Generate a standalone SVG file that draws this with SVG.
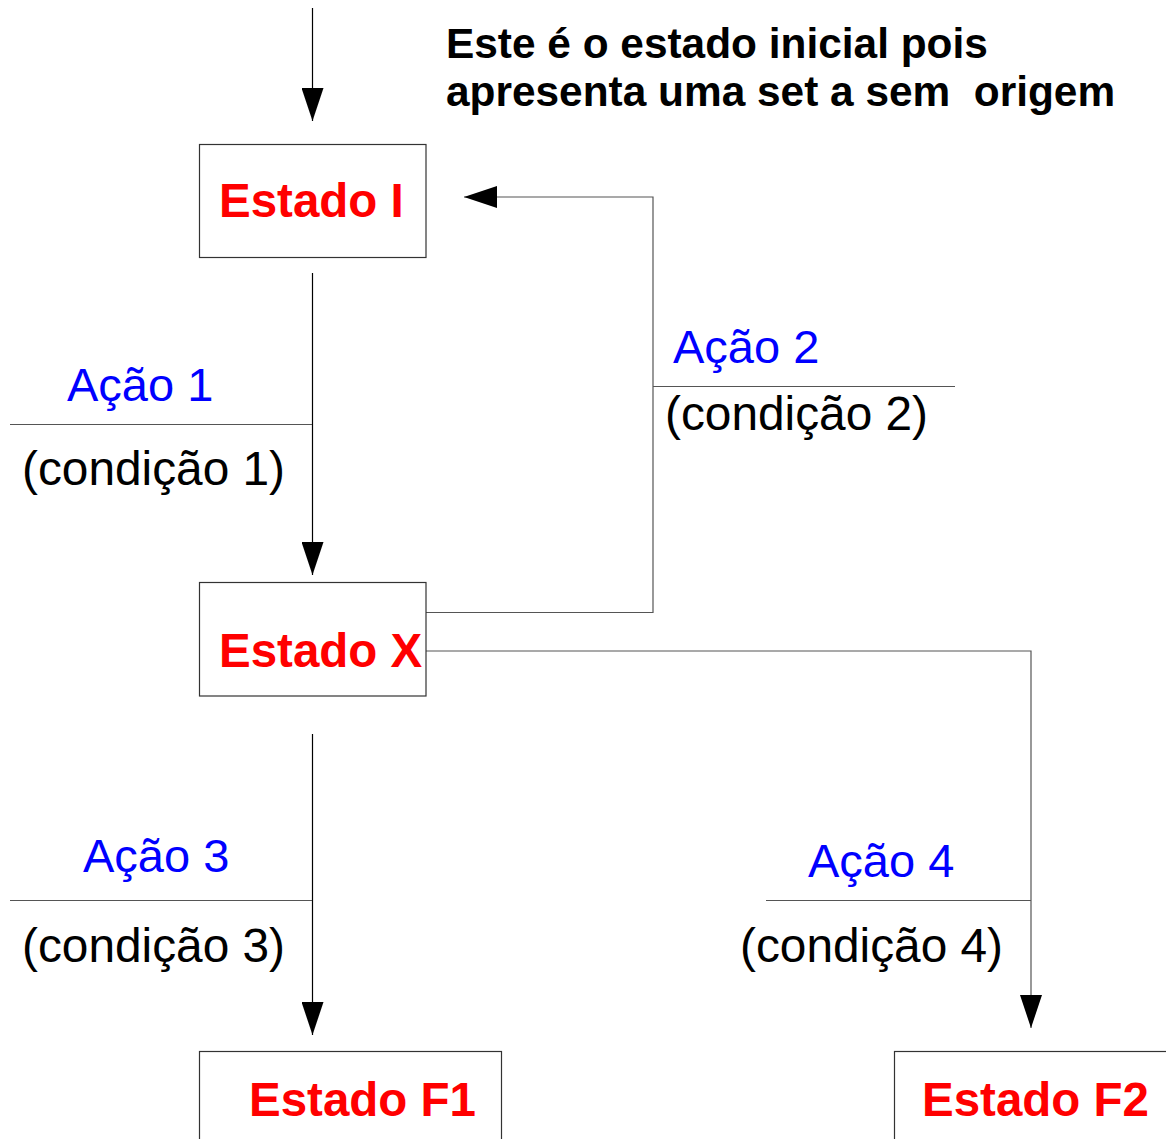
<svg xmlns="http://www.w3.org/2000/svg" width="1166" height="1139" viewBox="0 0 1166 1139">
<style>
.box{fill:#fff;stroke:#333;stroke-width:1.2}
.st{font-family:"Liberation Sans",Arial,sans-serif;font-weight:bold;font-size:47.5px;fill:#ff0000}
.act{font-family:"Liberation Sans",Arial,sans-serif;font-size:47px;fill:#0000ff}
.cond{font-family:"Liberation Sans",Arial,sans-serif;font-size:47.8px;fill:#000}
.note{font-family:"Liberation Sans",Arial,sans-serif;font-weight:bold;font-size:42.4px;fill:#000;white-space:pre}
.ln{fill:none;stroke:#000;stroke-width:1.2}
.gl{fill:none;stroke:#555;stroke-width:1.2}
</style>
<defs>
<marker id="ah" markerUnits="userSpaceOnUse" markerWidth="34" markerHeight="22" refX="33" refY="11" orient="auto" viewBox="0 0 34 22">
<path d="M0,0 L33,11 L0,22 z" fill="#000"/>
</marker>
</defs>
<g id="connectors">
<line class="ln" x1="312.5" y1="8" x2="312.5" y2="121" marker-end="url(#ah)"/>
<line class="ln" x1="312.5" y1="273" x2="312.5" y2="575" marker-end="url(#ah)"/>
<polyline class="gl" points="426,612.5 653,612.5 653,197 464,197" marker-end="url(#ah)"/>
<line class="ln" x1="312.5" y1="734" x2="312.5" y2="1035" marker-end="url(#ah)"/>
<polyline class="gl" points="426,651 1031,651 1031,1028" marker-end="url(#ah)"/>
</g>
<g id="label-acao1">
<line class="gl" x1="10" y1="424.5" x2="312" y2="424.5"/>
<text class="act" x="67" y="401">Ação 1</text>
<text class="cond" x="22" y="485">(condição 1)</text>
</g>
<g id="label-acao2">
<line class="gl" x1="653" y1="386.5" x2="955" y2="386.5"/>
<text class="act" x="673" y="363">Ação 2</text>
<text class="cond" x="665" y="430">(condição 2)</text>
</g>
<g id="label-acao3">
<line class="gl" x1="10" y1="900.5" x2="312" y2="900.5"/>
<text class="act" x="83" y="872">Ação 3</text>
<text class="cond" x="22" y="962">(condição 3)</text>
</g>
<g id="label-acao4">
<line class="gl" x1="766" y1="900.5" x2="1031" y2="900.5"/>
<text class="act" x="808" y="877">Ação 4</text>
<text class="cond" x="740" y="962">(condição 4)</text>
</g>
<g id="note">
<text class="note" x="446" y="58">Este é o estado inicial pois</text>
<text class="note" x="446" y="106" xml:space="preserve">apresenta uma set a sem  origem</text>
</g>
<g id="estado-i">
<rect class="box" x="199.5" y="144.5" width="226.5" height="113"/>
<text class="st" x="219" y="217">Estado I</text>
</g>
<g id="estado-x">
<rect class="box" x="199.5" y="582.5" width="226.5" height="113.5"/>
<text class="st" x="219" y="667">Estado X</text>
</g>
<g id="estado-f1">
<rect class="box" x="199.5" y="1051.5" width="302" height="200"/>
<text class="st" x="249" y="1116">Estado F1</text>
</g>
<g id="estado-f2">
<rect class="box" x="894.5" y="1051.5" width="400" height="200"/>
<text class="st" x="922" y="1116">Estado F2</text>
</g>
</svg>
